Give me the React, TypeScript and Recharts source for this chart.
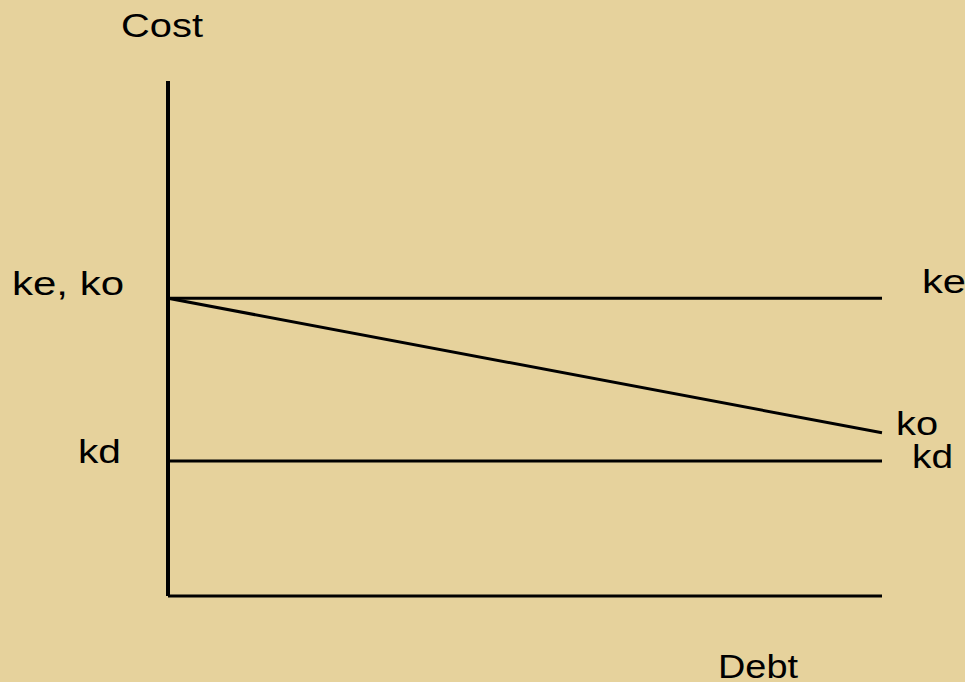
import React from 'react'
import { LineChart, Line, XAxis, YAxis, Label } from 'recharts'

// debt level (x) and cost of capital (y)
const debt = [0, 100]
const keValues = [57.8, 57.8]
const koValues = [57.8, 31.7]
const kdValues = [26.2, 26.2]

const data = debt.map((d, i) => ({
  debt: d,
  ke: keValues[i],
  ko: koValues[i],
  kd: kdValues[i]
}))

const FONT = '"Liberation Sans", Arial, sans-serif'

type Tag = { text: string; dx: number; dy: number; len: number }

const Txt = ({ x, y, t }: { x: number; y: number; t: Tag }) => (
  <text
    x={x + t.dx}
    y={y + t.dy}
    fontFamily={FONT}
    fontSize={33}
    fill="#000"
    textLength={t.len}
    lengthAdjust="spacingAndGlyphs"
  >
    {t.text}
  </text>
)

const endLabels = (first: Tag | null, last: Tag | null) => (props: any) => {
  const { x, y, index } = props
  if (index === 0 && first) return <Txt x={x} y={y} t={first} />
  if (index === data.length - 1 && last) return <Txt x={x} y={y} t={last} />
  return null
}

export default function App() {
  return (
    <div
      style={{
        position: 'fixed',
        top: 0,
        left: 0,
        width: 965,
        height: 682,
        background: '#E6D29C'
      }}
    >
      <LineChart
        width={965}
        height={682}
        data={data}
        margin={{ top: 81, right: 83, bottom: 85, left: 167 }}
      >
        <XAxis
          dataKey="debt"
          type="number"
          domain={[0, 100]}
          height={1}
          tick={false}
          tickLine={false}
          axisLine={{ stroke: '#000', strokeWidth: 3 }}
        >
          <Label
            content={(p: any) => (
              <Txt x={p.viewBox.x} y={p.viewBox.y} t={{ text: 'Debt', dx: 550, dy: 82, len: 80 }} />
            )}
          />
        </XAxis>
        <YAxis
          type="number"
          domain={[0, 100]}
          width={1}
          tick={false}
          tickLine={false}
          axisLine={{ stroke: '#000', strokeWidth: 4 }}
        >
          <Label
            content={(p: any) => (
              <Txt x={p.viewBox.x + p.viewBox.width} y={p.viewBox.y} t={{ text: 'Cost', dx: -47, dy: -44, len: 82 }} />
            )}
          />
        </YAxis>
        <Line
          dataKey="ke"
          type="linear"
          stroke="#000"
          strokeWidth={3}
          dot={false}
          isAnimationActive={false}
          label={endLabels(null, { text: 'ke', dx: 40, dy: -5, len: 44 })}
        />
        <Line
          dataKey="ko"
          type="linear"
          stroke="#000"
          strokeWidth={3}
          dot={false}
          isAnimationActive={false}
          label={endLabels(
            { text: 'ke, ko', dx: -156, dy: -3, len: 112 },
            { text: 'ko', dx: 14, dy: 2, len: 42 }
          )}
        />
        <Line
          dataKey="kd"
          type="linear"
          stroke="#000"
          strokeWidth={3}
          dot={false}
          isAnimationActive={false}
          label={endLabels(
            { text: 'kd', dx: -90, dy: 2, len: 43 },
            { text: 'kd', dx: 30, dy: 7, len: 41 }
          )}
        />
      </LineChart>
    </div>
  )
}
